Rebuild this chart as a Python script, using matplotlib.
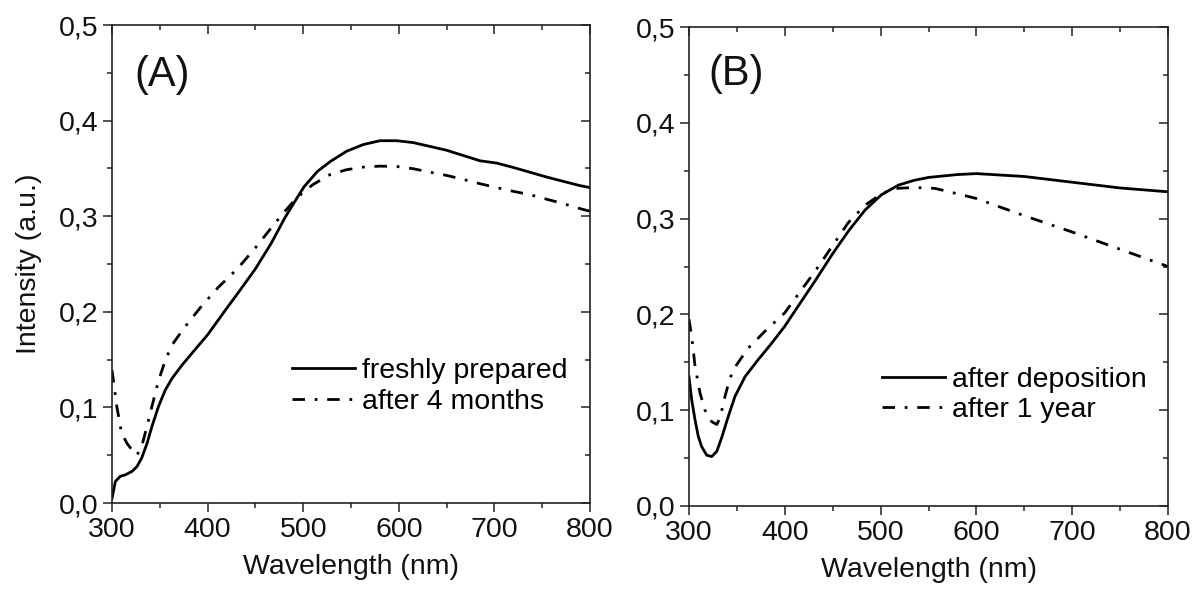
import numpy as np
import matplotlib
matplotlib.use('Agg')
import matplotlib.pyplot as plt
from matplotlib.ticker import MultipleLocator, FuncFormatter

plt.rcParams['font.family'] = ['Liberation Sans', 'DejaVu Sans']

# panel A: freshly prepared
wl_fresh = [300, 303.5, 308.7, 313.9, 320.8, 326, 331, 336.5, 341.7, 348.6, 355.6, 362.5,
            373, 383, 400, 418, 432, 450, 466.7, 480.6, 494, 501, 515, 528, 545.4,
            562.9, 580.3, 597.7, 615.2, 632.6, 650, 667.5, 684.9, 702.4, 719.8, 737.2,
            754.7, 772, 789.5, 800]
fresh = [0.005, 0.0226, 0.028, 0.0295, 0.033, 0.038, 0.047, 0.062, 0.080, 0.101, 0.118,
         0.130, 0.144, 0.156, 0.176, 0.201, 0.220, 0.245, 0.272, 0.298, 0.320, 0.331,
         0.347, 0.357, 0.368, 0.375, 0.379, 0.379, 0.377, 0.373, 0.369, 0.3635, 0.358,
         0.3556, 0.351, 0.346, 0.341, 0.3365, 0.332, 0.330]

# panel A: after 4 months
wl_4m = [300, 305, 310, 315.6, 320.8, 326, 331, 336.5, 341.7, 348.6, 355.6, 362.5, 376,
         393.7, 411, 432, 450, 466.7, 480.6, 494, 510, 528, 545, 563, 580, 598, 615,
         633, 650, 667.5, 685, 702, 720, 737, 755, 772, 789.5, 800]
months4 = [0.139, 0.101, 0.073, 0.0625, 0.0555, 0.050, 0.059, 0.080, 0.101, 0.128, 0.149,
           0.165, 0.184, 0.206, 0.2255, 0.246, 0.267, 0.288, 0.305, 0.320, 0.333, 0.3435,
           0.3486, 0.3514, 0.3524, 0.352, 0.3497, 0.346, 0.3427, 0.3385, 0.334, 0.330,
           0.326, 0.3226, 0.3177, 0.3132, 0.308, 0.3052]

# panel B: after deposition
wl_dep = [300, 302.8, 306.3, 309.7, 313.2, 318.5, 323.7, 329, 334, 341, 348, 358.5,
          372.4, 386.4, 400, 414, 431.6, 449.7, 466.4, 483.8, 501, 518.7, 535, 550,
          580, 600, 650, 700, 750, 800]
deposition = [0.135, 0.111, 0.090, 0.0726, 0.062, 0.053, 0.0516, 0.057, 0.071, 0.0935,
              0.1144, 0.135, 0.153, 0.170, 0.1877, 0.2087, 0.235, 0.263, 0.287, 0.309,
              0.325, 0.335, 0.340, 0.343, 0.346, 0.347, 0.344, 0.338, 0.332, 0.328]

# panel B: after 1 year
wl_1y = [300, 302.8, 306.3, 311.5, 316.7, 323.7, 329, 332.4, 337.6, 342.8, 349.8, 362,
         379.4, 400, 414, 431.6, 449.7, 466.4, 483.8, 501, 515, 536, 557, 580, 600,
         650, 700, 750, 800]
year1 = [0.195, 0.177, 0.146, 0.118, 0.100, 0.088, 0.085, 0.092, 0.1144, 0.1336, 0.1476,
         0.165, 0.1825, 0.2017, 0.221, 0.245, 0.2715, 0.296, 0.314, 0.326, 0.3315,
         0.3325, 0.3315, 0.326, 0.321, 0.303, 0.286, 0.268, 0.250]

FS = 20.5
DASHDOT = (0, (4.5, 3.5, 1, 3.5))
SPINE = '#222222'
TXT = '#111111'

fig = plt.figure(figsize=(11.97, 5.92), dpi=100)
ax_a = fig.add_axes([0.0936, 0.1503, 0.3993, 0.8074])
ax_b = fig.add_axes([0.5756, 0.1453, 0.4002, 0.8090])

comma = FuncFormatter(lambda v, p: ('%.1f' % v).replace('.', ','))


def style(ax):
    ax.set_xlim(300, 800)
    ax.set_ylim(0, 0.5)
    ax.xaxis.set_major_locator(MultipleLocator(100))
    ax.xaxis.set_minor_locator(MultipleLocator(50))
    ax.yaxis.set_major_locator(MultipleLocator(0.1))
    ax.yaxis.set_minor_locator(MultipleLocator(0.05))
    ax.yaxis.set_major_formatter(comma)
    for s in ax.spines.values():
        s.set_color(SPINE)
        s.set_linewidth(1.2)
    ax.tick_params(which='both', direction='out', top=False, right=False,
                   colors=SPINE, labelcolor=TXT, labelsize=FS, width=1.1)
    ax.tick_params(which='major', length=6.5, pad=3.5)
    ax.tick_params(which='minor', length=3.6)
    # mirrored ticks pointing inward on top and right
    top = ax.secondary_xaxis('top')
    right = ax.secondary_yaxis('right')
    top.xaxis.set_major_locator(MultipleLocator(100))
    top.xaxis.set_minor_locator(MultipleLocator(50))
    right.yaxis.set_major_locator(MultipleLocator(0.1))
    right.yaxis.set_minor_locator(MultipleLocator(0.05))
    for sec in (top, right):
        sec.spines[:].set_visible(False)
        sec.tick_params(which='both', direction='in', labelleft=False, labelright=False,
                        labeltop=False, labelbottom=False, colors=SPINE, width=1.1)
        sec.tick_params(which='major', length=6.5)
        sec.tick_params(which='minor', length=3.6)
    ax.set_xlabel('Wavelength (nm)', fontsize=FS, labelpad=8, color=TXT)


style(ax_a)
style(ax_b)

ax_a.plot(wl_fresh, fresh, color='black', lw=2.0, label='freshly prepared')
ax_a.plot(wl_4m, months4, color='black', lw=2.0, linestyle=DASHDOT, label='after 4 months')
ax_a.set_ylabel('Intensity (a.u.)', fontsize=FS, labelpad=12, color=TXT)
ax_a.text(0.046, 0.895, '(A)', transform=ax_a.transAxes, fontsize=30,
          va='center', ha='left', color=TXT)
ax_a.legend(loc='center left', bbox_to_anchor=(0.3766, 0.2437), frameon=False,
            fontsize=FS, handlelength=2.2, handletextpad=0.25, labelspacing=0.15,
            borderpad=0, borderaxespad=0)

ax_b.plot(wl_dep, deposition, color='black', lw=2.0, label='after deposition')
ax_b.plot(wl_1y, year1, color='black', lw=2.0, linestyle=DASHDOT, label='after 1 year')
ax_b.text(0.040, 0.903, '(B)', transform=ax_b.transAxes, fontsize=30,
          va='center', ha='left', color=TXT)
ax_b.legend(loc='center left', bbox_to_anchor=(0.403, 0.2317), frameon=False,
            fontsize=FS, handlelength=2.2, handletextpad=0.25, labelspacing=0.15,
            borderpad=0, borderaxespad=0)

fig.savefig('out.png', dpi=100)
